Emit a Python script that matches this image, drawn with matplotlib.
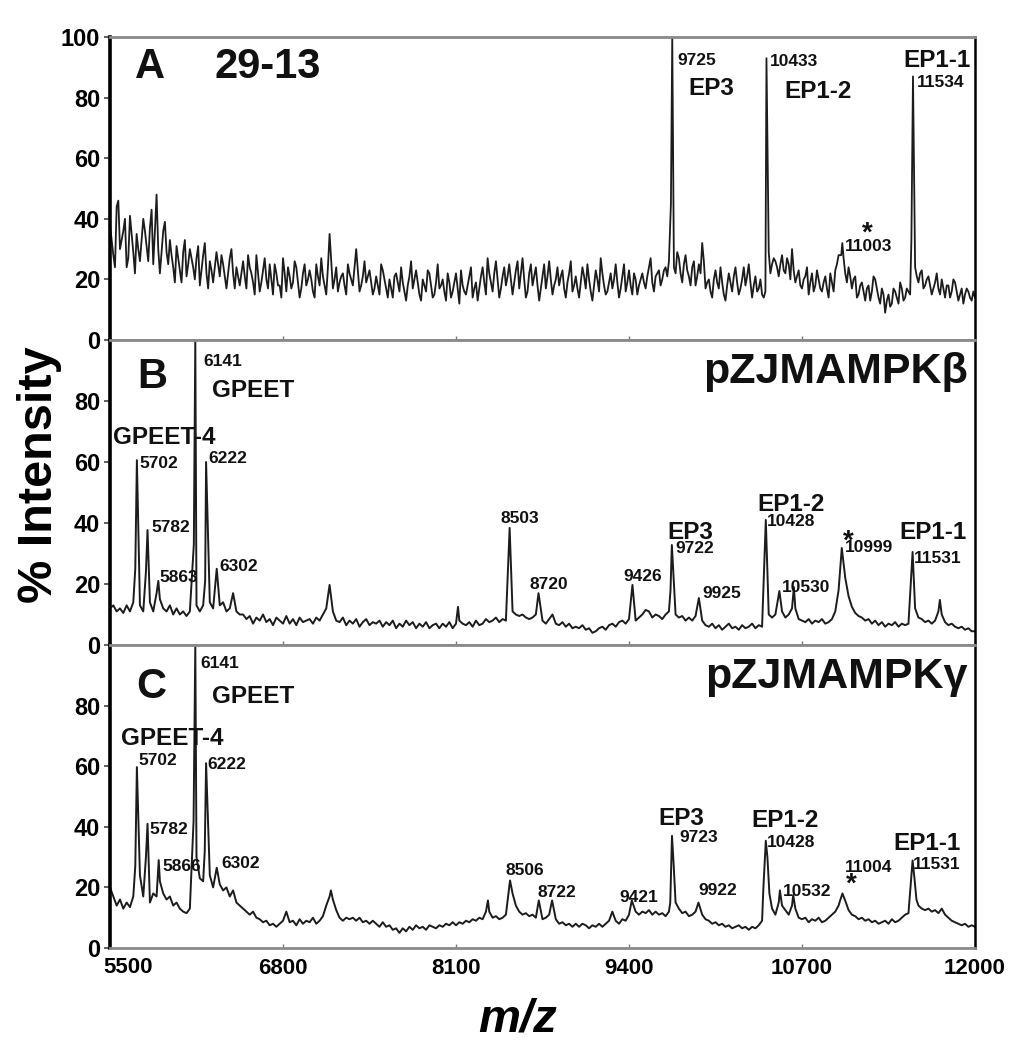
import numpy as np
import matplotlib
matplotlib.use("Agg")
import matplotlib.pyplot as plt

plt.rcParams['font.family'] = ['Liberation Sans', 'DejaVu Sans']
plt.rcParams['font.weight'] = 'bold'

# ---------------- data ----------------
MZ_START, MZ_STOP, MZ_STEP = 5500, 12000, 25
mz_grid = np.arange(MZ_START, MZ_STOP + 1, MZ_STEP)
mz_mid = mz_grid[:-1] + MZ_STEP / 2          # half-step readings (panel A only)

x_ticks = [5500, 6800, 8100, 9400, 10700, 12000]

# Panel A : 29-13  (baseline read every 25 Da)
a_base = [
    38, 28, 44, 30, 36, 24, 41, 29, 35, 26, 40, 31, 37, 25, 48, 22, 36, 29, 33, 24,
    31, 23, 29, 21, 30, 24, 27, 18, 28, 22, 26, 19, 29, 21, 25, 17, 27, 22, 24, 18,
    26, 17, 24, 19, 28, 16, 23, 20, 25, 15, 22, 18, 27, 16, 21, 19, 24, 14, 22, 18,
    23, 16, 25, 18, 21, 15, 35, 17, 24, 19, 22, 15, 22, 18, 30, 16, 21, 19, 23, 15,
    21, 15, 23, 17, 20, 14, 22, 16, 19, 13, 21, 17, 23, 15, 20, 16, 22, 14, 19, 17,
    20, 13, 19, 16, 22, 12, 18, 15, 21, 14, 19, 17, 24, 15, 22, 16, 26, 14, 21, 18,
    25, 15, 23, 17, 27, 14, 22, 18, 24, 13, 21, 17, 26, 15, 20, 18, 23, 14, 22, 16,
    21, 14, 24, 17, 20, 13, 23, 16, 22, 15, 19, 17, 25, 14, 21, 16, 23, 15, 20, 18,
    22, 17, 24, 19, 21, 23, 20, 24, 26, 26, 22, 27, 19, 28, 21, 24, 18, 25, 32, 17,
    20, 14, 23, 17, 19, 13, 22, 16, 24, 15, 20, 18, 25, 14, 21, 17, 15, 16, 29, 25,
    26, 21, 28, 22, 25, 30, 19, 23, 17, 21, 15, 22, 18, 20, 16, 21, 14, 19, 23, 28,
    30, 22, 24, 17, 21, 15, 19, 13, 18, 16, 20, 14, 17, 9, 15, 12, 16, 12, 17, 14,
    16, 25, 24, 19, 23, 18, 21, 15, 19, 17, 20, 14, 18, 16, 19, 13, 17, 15, 16, 13,
    14,
]
# Panel A half-step readings (5512.5, 5537.5, ...)
a_mid = [
    33, 24, 46, 33, 40, 27, 35, 22, 30, 33, 36, 26, 43, 36, 30, 29, 39, 25, 28, 19,
    27, 19, 33, 25, 27, 20, 31, 23, 32, 17, 23, 24, 25, 28, 21, 22, 30, 17, 21, 22,
    21, 28, 22, 15, 22, 19, 27, 17, 20, 25, 18, 14, 22, 24, 17, 26, 19, 17, 25, 20,
    20, 14, 21, 27, 18, 24, 26, 20, 16, 21, 18, 25, 20, 24, 23, 18, 26, 21, 19, 17,
    18, 25, 20, 14, 17, 21, 19, 24, 16, 18, 26, 20, 19, 13, 18, 23, 18, 15, 25, 18,
    16, 22, 14, 19, 17, 23, 16, 18, 24, 17, 13, 21, 19, 27, 19, 22, 20, 17, 24, 21,
    20, 19, 26, 22, 20, 16, 25, 21, 18, 17, 25, 21, 20, 18, 24, 21, 17, 19, 26, 18,
    17, 19, 21, 25, 16, 18, 20, 27, 18, 16, 22, 20, 19, 17, 25, 19, 18, 22, 15, 20,
    19, 21, 27, 16, 22, 18, 23, 21, 27, 24, 29, 22, 25, 23, 18, 26, 21, 22, 26, 19,
    16, 20, 19, 24, 15, 18, 19, 21, 19, 17, 24, 21, 19, 18, 16, 20, 14, 14, 22, 27,
    24, 25, 23, 27, 20, 23, 21, 18, 20, 24, 19, 16, 23, 17, 19, 17, 22, 16, 25, 29,
    27, 19, 21, 20, 14, 18, 16, 17, 13, 21, 17, 12, 15, 13, 11, 17, 14, 19, 13, 17,
    15, 20, 21, 22, 17, 20, 18, 17, 22, 15, 17, 18, 14, 20, 16, 15, 12, 17, 14, 16,
]
a_peak_mz = [9715, 9725, 10433, 10995, 11003, 11522, 11534]
a_peak_int = [45, 100, 93, 28, 32, 33, 87]

# Panel B : pZJMAMPKbeta
b_base = [
    12, 13, 11, 12, 10.5, 13, 11, 14, 13, 13, 11, 12, 14, 11, 17, 15, 12, 11, 13, 10,
    12, 10, 11, 9.5, 11, 12, 13, 11, 13, 14, 14, 12, 13, 13, 14, 11, 12, 17, 11, 10,
    10, 8.5, 9.5, 7, 9, 8, 10, 7.5, 8.5, 6.5, 9, 8, 7, 9.5, 7, 8.5, 6.5, 9, 7.5, 8,
    8.5, 7, 9, 8, 10, 12, 9, 11, 8, 7.5, 9, 6.5, 8, 7, 8.5, 6, 7.5, 8.5, 6.5, 7.5,
    7, 8, 6, 7.5, 6.5, 8, 5.5, 7, 6, 8, 6.5, 7.5, 5.5, 7, 6, 7.5, 5.5, 6.5, 7, 5.5,
    7, 6, 7.5, 5.5, 7, 8, 7, 6.5, 7.5, 6, 8, 6.5, 7, 8.5, 7.5, 8, 9, 7.5, 8.5, 8,
    12, 11, 10, 9.5, 10, 9, 8.5, 9, 10, 10, 8, 7, 8.5, 10, 7, 6.5, 7.5, 6, 7, 5.5,
    6, 5.5, 6.5, 5, 5.5, 4, 4.5, 5.5, 6, 5, 6.5, 7, 6, 7.5, 8, 7, 8.5, 9, 8, 9,
    10, 11.5, 11, 9, 10, 9.5, 8.5, 10, 11, 10, 10, 9, 9.5, 8, 9, 8, 9.5, 9, 8, 6.5,
    6, 7, 5.5, 6.5, 5, 6, 7, 5.5, 6, 5, 6.5, 5.5, 6, 7, 5.5, 6.5, 6, 10, 10, 9,
    10, 14, 11, 9, 10, 12, 12, 8.5, 8, 7.5, 8.5, 7, 8, 7.5, 8.5, 7, 7.5, 8.5, 11, 18,
    30, 22, 16, 12.5, 10.5, 9.5, 9, 8, 8.5, 7, 8, 6.5, 7.5, 6, 7, 6.5, 7.5, 6, 7, 6.5,
    7, 20, 12, 9, 8.5, 7.5, 8, 7, 8, 11, 10, 7.5, 6.5, 7, 6, 5.5, 6, 5, 5.5, 4.5,
    4.5,
]
b_peak_mz = [5690, 5702, 5770, 5782, 5863, 6130, 6141, 6215, 6222, 6302, 7150,
             8115, 8503, 8720, 9426, 9712, 9722, 9925, 10428, 10530, 10639,
             10999, 11531, 11736]
b_peak_int = [25, 60.6, 24, 37.7, 21, 33, 100, 21, 60, 25, 19.7,
              12.5, 38.4, 17, 19.7, 18, 32.8, 15.4, 41, 17.7, 19,
              31.8, 30.5, 14.8]

# Panel C : pZJMAMPKgamma
c_base = [
    20, 17, 14, 16, 13, 15, 13.5, 17, 24, 24, 17, 30, 15, 18, 17, 22, 18, 16, 17, 14,
    15, 13, 12, 11.5, 13, 17.6, 30, 23, 22, 30, 24, 20, 26, 21, 19, 20, 17, 19, 15, 14,
    13, 12, 11, 12, 10, 9.5, 8.5, 9, 7.5, 8, 7, 8, 9, 12, 8.5, 9, 7.5, 9.5, 8, 9,
    8.5, 10, 8, 9, 10.5, 14, 17, 16, 12.5, 10, 9, 10, 9.5, 10, 9, 10, 8.5, 9, 8, 9,
    8, 7, 8.5, 7, 7.5, 6, 6.5, 5, 6.5, 5.5, 7, 6, 7.5, 6.5, 7, 6, 7.5, 7, 6.5, 7.5,
    7, 8, 7.5, 8.5, 7.5, 8.5, 8, 9, 8.5, 9.5, 9, 10, 9.5, 12, 12, 10, 10.5, 9.5, 10, 11,
    12, 18, 14, 12, 11, 11.5, 10.5, 11, 10, 13, 9.5, 10, 11, 14, 9.5, 8, 8.5, 7.5, 8, 7,
    8, 7, 8, 7.5, 6.5, 7.5, 7, 8, 7, 8, 9, 12, 9, 8, 9.5, 9, 11, 14, 12, 11,
    12, 11.5, 12.5, 11, 12, 11, 11.5, 10.5, 12, 30, 15, 13, 11.5, 12, 10.5, 11, 12, 15, 11, 9.5,
    9, 8, 8.5, 7.5, 8, 7, 7.5, 6.5, 7, 7.5, 6.5, 7, 6, 7, 6.5, 7.5, 9, 30, 18, 13,
    11, 15, 14, 12.5, 11, 14, 13, 10, 9.5, 10, 8.5, 9.5, 9, 10, 8.5, 9, 10, 11, 12, 14,
    16, 15, 12.5, 11, 10.5, 9.5, 10, 9, 9.5, 8.5, 9, 8, 8.5, 9, 8, 9.5, 8.5, 9, 10, 11,
    11.5, 25, 20, 14, 13, 12.5, 13, 12, 12.5, 11.5, 13, 11, 10, 9, 8.5, 8, 7.5, 8, 7, 7.5,
    7,
]
c_peak_mz = [5690, 5702, 5770, 5782, 5866, 6128, 6141, 6212, 6222, 6302, 7160,
             8340, 8506, 8722, 8822, 9421, 9710, 9723, 9735, 9922, 10410, 10428,
             10440, 10455, 10534, 10634, 10985, 11004, 11030, 11520, 11531, 11545,
             11560]
c_peak_int = [27, 59.7, 30, 41, 29, 42, 100, 32, 61, 26.5, 19,
              15.7, 22.3, 15.7, 15.7, 15.7, 15, 37, 28, 15, 20, 35.4,
              30, 18, 19, 17.5, 15.5, 18, 15, 23, 28.9, 23,
              16]

# annotation texts: (text, m/z, intensity, kind)
a_labels = [
    ('A', 5688, 90, 'panel'), ('29-13', 6289, 90, 'panel'),
    ('9725', 9760, 92.4, 'num'), ('EP3', 9843, 83, 'name'),
    ('10433', 10459, 92, 'num'), ('EP1-2', 10571, 82, 'name'),
    ('EP1-1', 11465, 92.4, 'name'), ('11534', 11563, 85, 'num'),
    ('11003', 11022, 31, 'num'), ('*', 11150, 35, 'star'),
]
b_labels = [
    ('B', 5703, 88, 'panel'),
    ('6141', 6199, 92.8, 'num'), ('GPEET', 6266, 83.6, 'name'),
    ('GPEET-4', 5523, 68, 'name'),
    ('5702', 5718, 59.6, 'num'), ('6222', 6236, 61, 'num'),
    ('5782', 5808, 38.4, 'num'), ('5863', 5868, 22, 'num'),
    ('6302', 6319, 25.6, 'num'), ('8503', 8438, 41.6, 'num'),
    ('8720', 8656, 19.7, 'num'), ('9426', 9355, 22.3, 'num'),
    ('EP3', 9692, 37, 'name'), ('9722', 9752, 31.5, 'num'),
    ('9925', 9955, 17, 'num'), ('EP1-2', 10361, 46, 'name'),
    ('10428', 10436, 40.6, 'num'), ('10530', 10549, 19, 'num'),
    ('*', 11007, 34, 'star'), ('10999', 11022, 32, 'num'),
    ('EP1-1', 11428, 37, 'name'), ('11531', 11540, 28.5, 'num'),
]
c_labels = [
    ('C', 5700, 86, 'panel'),
    ('6141', 6176, 94, 'num'), ('GPEET', 6266, 83, 'name'),
    ('GPEET-4', 5583, 69, 'name'),
    ('5702', 5710, 62, 'num'), ('6222', 6229, 60.7, 'num'),
    ('5782', 5793, 39, 'num'), ('5866', 5891, 27, 'num'),
    ('6302', 6334, 28, 'num'), ('8506', 8475, 25.6, 'num'),
    ('8722', 8716, 18.4, 'num'), ('9421', 9325, 16.7, 'num'),
    ('EP3', 9617, 42.6, 'name'), ('9723', 9775, 36.4, 'num'),
    ('9922', 9918, 19, 'num'), ('EP1-2', 10316, 42, 'name'),
    ('10428', 10436, 34.8, 'num'), ('10532', 10556, 18.7, 'num'),
    ('*', 11030, 21, 'star'), ('11004', 11022, 26.6, 'num'),
    ('EP1-1', 11390, 34.4, 'name'), ('11531', 11533, 27.5, 'num'),
]
b_title = 'pZJMAMPKβ'
c_title = 'pZJMAMPKγ'

# ---------------- helpers ----------------
def build(base, pk_mz, pk_int, mid=None):
    gx = [mz_grid]
    gy = [np.asarray(base, float)]
    if mid is not None:
        gx.append(mz_mid)
        gy.append(np.asarray(mid, float))
    gx = np.concatenate(gx)
    gy = np.concatenate(gy)
    pk_mz = np.asarray(pk_mz, float)
    pk_int = np.asarray(pk_int, float)
    keep = np.array([np.min(np.abs(pk_mz - m)) >= 8 for m in gx])
    x = np.concatenate([gx[keep], pk_mz])
    y = np.concatenate([gy[keep], pk_int])
    order = np.argsort(x, kind='stable')
    return x[order], y[order]

sizes = {'panel': 30, 'num': 12.5, 'name': 17.5, 'star': 20}
line_w = [1.3, 1.4, 1.4]

fig = plt.figure(figsize=(10.27, 10.5), dpi=100)
L, W = 110 / 1027, 865 / 1027
panels = [
    (a_base, a_mid, a_peak_mz, a_peak_int, a_labels, None, [0, 20, 40, 60, 80, 100], 37, 340),
    (b_base, None, b_peak_mz, b_peak_int, b_labels, b_title, [0, 20, 40, 60, 80], 340, 645),
    (c_base, None, c_peak_mz, c_peak_int, c_labels, c_title, [0, 20, 40, 60, 80], 645, 948),
]
for i, (base, mid, pmz, pint, labels, title, yt, top_px, bot_px) in enumerate(panels):
    ax = fig.add_axes([L, 1 - bot_px / 1050, W, (bot_px - top_px) / 1050])
    x, y = build(base, pmz, pint, mid)
    ax.plot(x, y, color='#1c1c1c', lw=line_w[i])
    ax.set_xlim(MZ_START, MZ_STOP)
    ax.set_ylim(0, 100)
    ax.set_yticks(yt)
    ax.set_yticklabels([str(v) for v in yt], fontsize=17, fontweight='bold')
    ax.set_xticks(x_ticks)
    if i < 2:
        ax.set_xticklabels([])
    else:
        # first label sits right of its tick in the reference
        ax.set_xticklabels([''] + [str(v) for v in x_ticks[1:]],
                           fontsize=16, fontweight='bold')
        ax.annotate(str(x_ticks[0]), xy=(x_ticks[0], 0),
                    xycoords=('data', 'axes fraction'),
                    xytext=(18, -9), textcoords='offset pixels',
                    ha='center', va='top', fontsize=16, fontweight='bold')
    ax.tick_params(axis='y', direction='out', length=4, width=1.2, pad=3, color='#444')
    ax.tick_params(axis='x', direction='in', length=3, width=1, pad=7, color='#777')
    ax.spines['left'].set(color='black', linewidth=2.6)
    ax.spines['right'].set(color='black', linewidth=1.8)
    ax.spines['top'].set(color='#8a8a8a', linewidth=2.0)
    ax.spines['bottom'].set(color='#8a8a8a', linewidth=2.0)
    for txt, mx, iy, kind in labels:
        ax.text(mx, iy, txt, ha='left', va='center', fontsize=sizes[kind],
                fontweight='bold', color='#111')
    if title:
        ax.text(11946, 89.5, title, ha='right', va='center', fontsize=31,
                fontweight='bold', color='#111')

fig.text(40 / 1027, 1 - 475 / 1050, '% Intensity', rotation=90, ha='center',
         va='center', fontsize=35, fontweight='bold')
fig.text(518 / 1027, 1 - 1020 / 1050, 'm/z', ha='center', va='center',
         fontsize=34, fontweight='bold', style='italic')

fig.savefig('out.png', dpi=100)
